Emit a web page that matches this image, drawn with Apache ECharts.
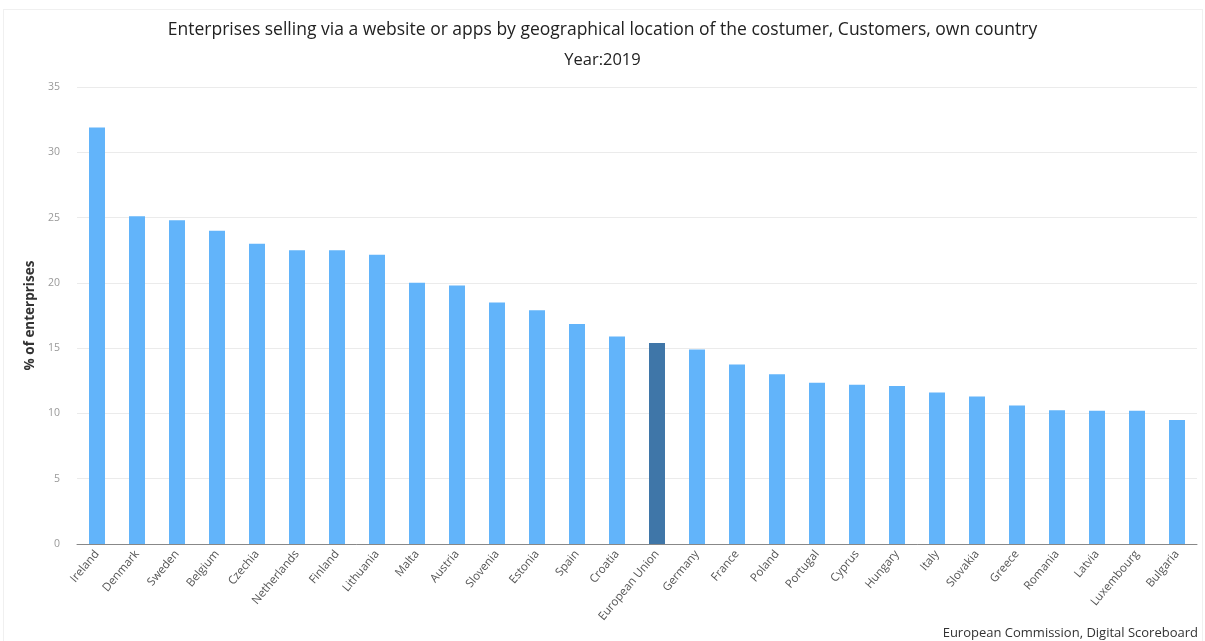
<!DOCTYPE html>
<html>
<head>
<meta charset="utf-8">
<script src="https://cdn.jsdelivr.net/npm/echarts@6/dist/echarts.min.js"></script>
<style>
html,body{margin:0;padding:0;background:#fff;}
#frame{position:absolute;left:3px;top:9px;width:1200px;height:640px;border:1px solid #f0f0f0;box-sizing:border-box;}
#chart{position:absolute;left:0;top:0;width:1205px;height:641px;}
</style>
</head>
<body>
<div id="frame"></div>
<div id="chart"></div>
<script>
const categories = ["Ireland","Denmark","Sweden","Belgium","Czechia","Netherlands","Finland","Lithuania","Malta","Austria","Slovenia","Estonia","Spain","Croatia","European Union","Germany","France","Poland","Portugal","Cyprus","Hungary","Italy","Slovakia","Greece","Romania","Latvia","Luxembourg","Bulgaria"];
const values = [31.9,25.1,24.8,24.0,23.0,22.5,22.5,22.15,20.0,19.8,18.5,17.9,16.85,15.9,15.4,14.9,13.75,13.0,12.35,12.2,12.1,11.6,11.3,10.6,10.25,10.2,10.2,9.5];
const highlight = "European Union";
const titleText = "Enterprises selling via a website or apps by geographical location of the costumer, Customers, own country";
const subtitleText = "Year:2019";
const yAxisName = "% of enterprises";
const sourceText = "European Commission, Digital Scoreboard";

const chart = echarts.init(document.getElementById('chart'), null, {renderer:'canvas'});
const fontFamily = "'Open Sans', sans-serif";
chart.setOption({
  animation:false,
  textStyle:{fontFamily:fontFamily},
  title:[
    {text:titleText, left:'center', top:16, textStyle:{fontSize:17.5, fontWeight:'normal', color:'#222', fontFamily:fontFamily}},
    {text:subtitleText, left:'center', top:47, textStyle:{fontSize:16.5, fontWeight:'normal', color:'#222', fontFamily:fontFamily}},
    {text:sourceText, right:2, bottom:-4, textStyle:{fontSize:13, fontWeight:'normal', color:'#333', fontFamily:fontFamily}}
  ],
  grid:{left:77, right:8, top:87, bottom:97, containLabel:false},
  xAxis:{
    type:'category',
    data:categories,
    axisLine:{lineStyle:{color:'#888', width:1}},
    axisTick:{show:false},
    axisLabel:{interval:0, rotate:50, fontSize:11.5, color:'#555', margin:8, fontFamily:fontFamily}
  },
  yAxis:{
    type:'value',
    min:0, max:35, interval:5,
    name:yAxisName,
    nameLocation:'middle',
    nameGap:36,
    nameTextStyle:{fontSize:13.5, fontWeight:'bold', color:'#333', fontFamily:fontFamily},
    axisLine:{show:false},
    axisTick:{show:false},
    axisLabel:{fontSize:10.5, color:'#999', margin:17, fontFamily:fontFamily},
    splitLine:{lineStyle:{color:'#ebebeb', width:1}}
  },
  series:[{
    type:'bar',
    barWidth:16,
    data:values.map((v,i)=>({value:v, itemStyle:{color: categories[i]===highlight ? '#3f76a8' : '#62b4fa'}}))
  }]
});
</script>
</body>
</html>
